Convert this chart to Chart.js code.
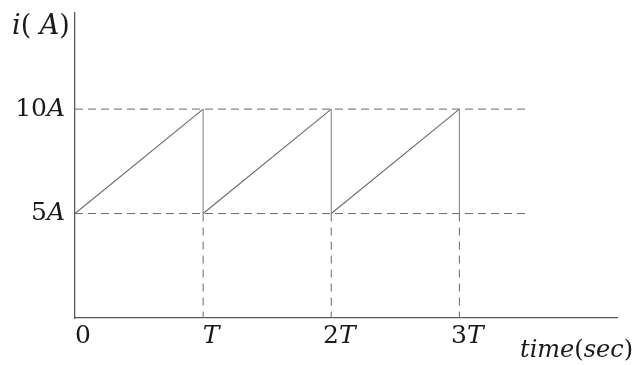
<!DOCTYPE html>
<html>
<head>
<meta charset="utf-8">
<script src="https://cdn.jsdelivr.net/npm/chart.js@4.4.1/dist/chart.umd.min.js"></script>
<style>
    html, body { margin: 0; padding: 0; background: #fff; }
    #wrap { width: 637px; height: 365px; }
</style>
</head>
<body>
<div id="wrap"><canvas id="sawChart"></canvas></div>
<script>
'use strict';

// Data: sawtooth current between 5A and 10A, period T
const periods = [0, 1, 2, 3];          // in units of T
const lowCurrent = 5;
const highCurrent = 10;
const xTickValues = [0, 1, 2, 3];
const xTickLabels = [['0', ''], ['', 'T'], ['2', 'T'], ['3', 'T']];
const yTickValues = [10, 5];
const yTickLabels = [['10', 'A'], ['5', 'A']];
const xMax = 4.23;
const yMax = 14.6;
const dashEnd = 3.55;

(function () {
    const lineColor = '#6a6a6a',
        dropColor = '#8a8a8a',
        axisColor = '#5a5a5a',
        textColor = '#1a1a1a',
        serif = '"DejaVu Serif", "Liberation Serif", serif';

    // Build sawtooth points: ramp up then drop
    const sawPoints = [];
    periods.slice(0, -1).forEach(function (p, i) {
        sawPoints.push({ x: p, y: lowCurrent });
        sawPoints.push({ x: periods[i + 1], y: highCurrent });
    });
    sawPoints.push({ x: periods[periods.length - 1], y: lowCurrent });

    const datasets = [
        {
            data: sawPoints,
            borderColor: lineColor,
            borderWidth: 1.1,
            pointRadius: 0,
            showLine: true,
            tension: 0,
            segment: {
                // the vertical drops are drawn a little lighter
                borderColor: function (c) {
                    return c.p0.parsed.x === c.p1.parsed.x ? dropColor : undefined;
                }
            }
        }
    ];

    // Horizontal dashed levels
    [highCurrent, lowCurrent].forEach(function (level) {
        datasets.push({
            data: [{ x: 0, y: level }, { x: dashEnd, y: level }],
            borderColor: lineColor,
            borderWidth: 1,
            borderDash: [8, 5],
            pointRadius: 0,
            showLine: true
        });
    });

    // Vertical dashed drops to the time axis
    periods.slice(1).forEach(function (p) {
        datasets.push({
            data: [{ x: p, y: lowCurrent }, { x: p, y: 0 }],
            borderColor: lineColor,
            borderWidth: 1,
            borderDash: [8, 6],
            pointRadius: 0,
            showLine: true
        });
    });

    function fontFor(italic, size) {
        return (italic ? 'italic ' : '') + size + 'px ' + serif;
    }

    // Draw a label made of [text, italic] pieces
    function drawPieces(ctx, pieces, x, y, align, size) {
        let total = 0;
        pieces.forEach(function (piece) {
            ctx.font = fontFor(piece[1], size);
            total += ctx.measureText(piece[0]).width;
        });
        let cx = x;
        if (align === 'right') cx = x - total;
        if (align === 'center') cx = x - total / 2;
        pieces.forEach(function (piece) {
            ctx.font = fontFor(piece[1], size);
            ctx.fillText(piece[0], cx, y);
            cx += ctx.measureText(piece[0]).width;
        });
    }

    function tickPieces(parts) {
        return [[parts[0], false], [parts[1], true]];
    }

    const labelPlugin = {
        id: 'mathLabels',
        afterDraw: function (chart) {
            const ctx = chart.ctx;
            const xs = chart.scales.x, ys = chart.scales.y;
            const area = chart.chartArea;
            ctx.save();
            ctx.fillStyle = textColor;
            ctx.textAlign = 'left';
            ctx.textBaseline = 'middle';

            xTickValues.forEach(function (v, i) {
                drawPieces(ctx, tickPieces(xTickLabels[i]), xs.getPixelForValue(v) + 8, area.bottom + 18, 'center', 25);
            });
            yTickValues.forEach(function (v, i) {
                drawPieces(ctx, tickPieces(yTickLabels[i]), area.left - 10, ys.getPixelForValue(v), 'right', 25);
            });

            drawPieces(ctx, [['i', true], ['( ', false], ['A', true], [')', false]], 12, area.top + 14, 'left', 27);
            drawPieces(ctx, [['time', true], ['(', false], ['sec', true], [')', false]], 633, area.bottom + 33, 'right', 24);
            ctx.restore();
        }
    };

    new Chart(document.getElementById('sawChart'), {
        type: 'scatter',
        data: { datasets: datasets },
        options: {
            responsive: true,
            maintainAspectRatio: false,
            animation: false,
            layout: {
                padding: { left: 75, right: 20, top: 13, bottom: 47 }
            },
            plugins: {
                legend: { display: false },
                tooltip: { enabled: false }
            },
            scales: {
                x: {
                    type: 'linear',
                    min: 0,
                    max: xMax,
                    grid: { display: false },
                    ticks: { display: false },
                    border: { display: true, color: axisColor, width: 1.3 },
                    afterFit: function (scale) { scale.height = 0; }
                },
                y: {
                    type: 'linear',
                    min: 0,
                    max: yMax,
                    grid: { display: false },
                    ticks: { display: false },
                    border: { display: true, color: axisColor, width: 1.3 },
                    afterFit: function (scale) { scale.width = 0; }
                }
            }
        },
        plugins: [labelPlugin]
    });
})();
</script>
</body>
</html>
